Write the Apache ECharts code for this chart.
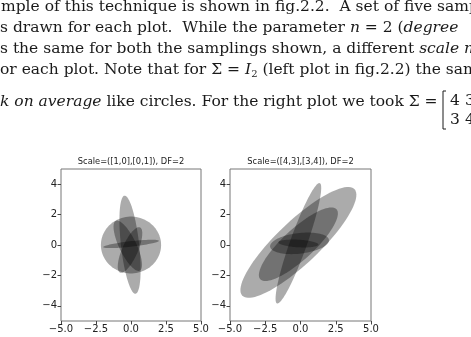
<!DOCTYPE html>
<html>
<head>
<meta charset="utf-8">
<script src="https://cdn.jsdelivr.net/npm/echarts@6/dist/echarts.min.js"></script>
<style>html,body{margin:0;padding:0;background:#fff;}#c{width:471px;height:337px;}</style>
</head>
<body>
<div id="c"></div>
<script>
// ---- data ----
const titles = ['Scale=([1,0],[0,1]), DF=2', 'Scale=([4,3],[3,4]), DF=2'];
const xTicks = [-5, -2.5, 0, 2.5, 5];
const yTicks = [-4, -2, 0, 2, 4];
// ellipses: [cx, cy, semiMajor, semiMinor, angleDeg]
const ellipsesLeft = [
  [0.0, 0.0, 2.15, 1.87, 0],
  [-0.07, 0.02, 3.25, 0.65, 97],
  [0.0, 0.07, 2.0, 0.18, 6],
  [-0.23, -0.05, 1.85, 0.6, 118],
  [-0.07, -0.33, 1.65, 0.55, 64]
];
const ellipsesRight = [
  [-0.15, 0.17, 5.3, 1.45, 41],
  [-0.15, 0.05, 3.55, 1.05, 40],
  [-0.15, 0.11, 4.24, 0.6, 69],
  [-0.07, 0.11, 2.1, 0.68, 6],
  [-0.15, 0.1, 1.42, 0.25, -3]
];
const paperLines = [
  'mple of this technique is shown in fig.2.2.  A set of five samp',
  's drawn for each plot.  While the parameter {i|n} = 2 ({i|degree}',
  's the same for both the samplings shown, a different {i|scale mo}',
  'or each plot. Note that for Σ = {i|I}{s|2} (left plot in fig.2.2) the sam',
  '{i|k on average} like circles. For the right plot we took Σ ='
];
const matrix = [['4', '3'], ['3', '4']];

const minus = s => String(s).replace('-', '\u2212');

function ellipseRender(params, api) {
  const cx = api.value(0), cy = api.value(1), a = api.value(2), b = api.value(3), ang = api.value(4) * Math.PI / 180;
  const pts = [];
  const N = 90;
  for (let k = 0; k < N; k++) {
    const t = 2 * Math.PI * k / N;
    const ex = a * Math.cos(t), ey = b * Math.sin(t);
    const x = cx + ex * Math.cos(ang) - ey * Math.sin(ang);
    const y = cy + ex * Math.sin(ang) + ey * Math.cos(ang);
    pts.push(api.coord([x, y]));
  }
  return { type: 'polygon', shape: { points: pts }, style: { fill: 'rgba(0,0,0,0.33)', stroke: null } };
}

const grids = [
  { left: 61, top: 169, width: 140, height: 152 },
  { left: 230, top: 169, width: 141, height: 152 }
];
const axisFont = { fontFamily: 'DejaVu Sans', fontSize: 10, color: '#222' };
const serif = '"DejaVu Serif"';
const fs = 15.5;

const chart = echarts.init(document.getElementById('c'), null, { renderer: 'canvas' });
const option = {
  animation: false,
  backgroundColor: '#fff',
  title: titles.map((t, i) => ({
    text: t,
    left: grids[i].left + grids[i].width / 2,
    top: 158,
    textAlign: 'center',
    textStyle: { fontFamily: 'DejaVu Sans', fontSize: 8.3, fontWeight: 'normal', color: '#222' },
    padding: 0
  })),
  grid: grids.map(g => Object.assign({ show: true, borderColor: '#777', borderWidth: 1, backgroundColor: '#fff' }, g)),
  xAxis: [0, 1].map(i => ({
    type: 'value', gridIndex: i, min: -5, max: 5,
    axisLine: { show: false, onZero: false },
    splitLine: { show: false },
    axisTick: { show: true, length: 3.5, customValues: xTicks, lineStyle: { color: '#444' } },
    axisLabel: Object.assign({ customValues: xTicks, margin: 3, formatter: v => minus(v.toFixed(1)) }, axisFont)
  })),
  yAxis: [0, 1].map(i => ({
    type: 'value', gridIndex: i, min: -5, max: 5,
    axisLine: { show: false, onZero: false },
    splitLine: { show: false },
    axisTick: { show: true, length: 3.5, customValues: yTicks, lineStyle: { color: '#444' } },
    axisLabel: Object.assign({ customValues: yTicks, margin: 4, formatter: v => minus(v) }, axisFont)
  })),
  series: [ellipsesLeft, ellipsesRight].map((d, i) => ({
    type: 'custom', xAxisIndex: i, yAxisIndex: i, renderItem: ellipseRender, data: d, clip: true
  })),
  graphic: paperLines.map((t, i) => ({
    type: 'text', x: i === 0 ? 1 : 0, y: [7, 28, 49, 70, 102][i],
    style: {
      text: t, font: fs + 'px ' + serif, fill: '#1a1a1a', verticalAlign: 'middle',
      rich: { i: { fontStyle: 'italic', fontFamily: 'DejaVu Serif', fontSize: fs }, s: { fontSize: 10, fontFamily: 'DejaVu Serif', padding: [8, 0, 0, 0] } }
    }
  })).concat([
    { type: 'text', x: 450, y: 101, style: { text: matrix[0][0], font: fs + 'px ' + serif, fill: '#1a1a1a', verticalAlign: 'middle' } },
    { type: 'text', x: 465, y: 101, style: { text: matrix[0][1], font: fs + 'px ' + serif, fill: '#1a1a1a', verticalAlign: 'middle' } },
    { type: 'text', x: 450, y: 120, style: { text: matrix[1][0], font: fs + 'px ' + serif, fill: '#1a1a1a', verticalAlign: 'middle' } },
    { type: 'text', x: 465, y: 120, style: { text: matrix[1][1], font: fs + 'px ' + serif, fill: '#1a1a1a', verticalAlign: 'middle' } },
    { type: 'polyline', shape: { points: [[446, 91], [443, 91], [443, 129], [446, 129]] }, style: { stroke: '#1a1a1a', lineWidth: 1, fill: null } }
  ])
};
chart.setOption(option);
</script>
</body>
</html>
